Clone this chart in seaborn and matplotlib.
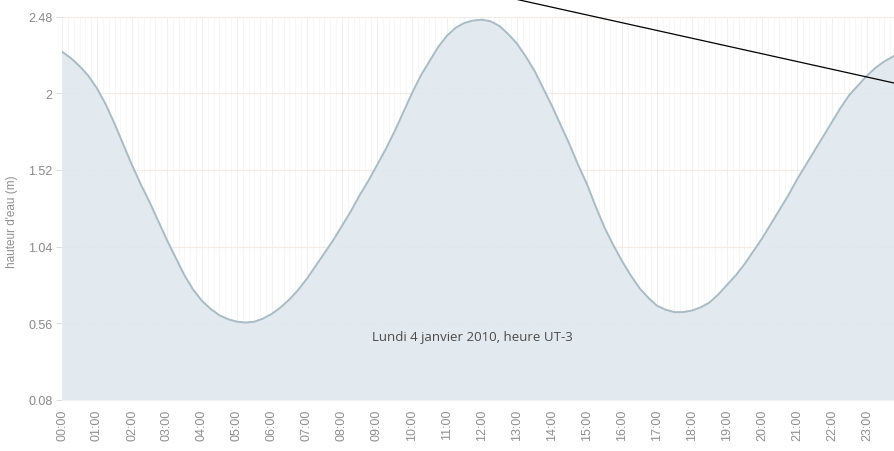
import matplotlib
matplotlib.use("Agg")
import matplotlib.pyplot as plt
import seaborn as sns
import numpy as np
import pandas as pd
from matplotlib.lines import Line2D

# ---- data (quarter-hour readings) ----
hours = [i * 0.25 for i in range(97)]
hauteur = [2.26, 2.22, 2.17, 2.11, 2.03, 1.93, 1.81, 1.68, 1.55, 1.43, 1.32, 1.20,
           1.08, 0.97, 0.86, 0.77, 0.70, 0.65, 0.61, 0.585, 0.57, 0.565, 0.57, 0.59,
           0.62, 0.66, 0.71, 0.77, 0.84, 0.92, 1.00, 1.08, 1.17, 1.26, 1.36, 1.45,
           1.55, 1.65, 1.76, 1.88, 2.00, 2.11, 2.20, 2.29, 2.36, 2.41, 2.44, 2.455,
           2.46, 2.45, 2.42, 2.37, 2.31, 2.23, 2.14, 2.03, 1.92, 1.80, 1.68, 1.55,
           1.43, 1.29, 1.16, 1.05, 0.95, 0.86, 0.78, 0.72, 0.67, 0.645, 0.63, 0.63,
           0.64, 0.66, 0.69, 0.74, 0.80, 0.86, 0.93, 1.01, 1.09, 1.18, 1.27, 1.36,
           1.46, 1.55, 1.64, 1.73, 1.82, 1.91, 1.99, 2.05, 2.11, 2.16, 2.20, 2.23,
           2.26]
y_ticks = [0.08, 0.56, 1.04, 1.52, 2, 2.48]
y_tick_labels = ["0.08", "0.56", "1.04", "1.52", "2", "2.48"]
x_ticks = list(range(0, 25))
x_tick_labels = [f"{h:02d}:00" for h in x_ticks]
y_label = "hauteur d'eau (m)"
caption = "Lundi 4 janvier 2010, heure UT-3"

df = pd.DataFrame({"heure": hours, "hauteur": hauteur})

sns.set_theme(style="white")
plt.rcParams["font.family"] = ["Liberation Sans", "DejaVu Sans"]

W, H = 894, 452
fig = plt.figure(figsize=(W / 100, H / 100), dpi=100)
left, right = 62, 902
bottom_px, top_px = 401, 17.5
ax = fig.add_axes([left / W, (H - bottom_px) / H, (right - left) / W, (bottom_px - top_px) / H])

ax.set_xlim(0, 24)
ax.set_ylim(0.08, 2.48)

# faint grid
ax.set_xticks(np.arange(0, 24.01, 1 / 6), minor=True)
ax.grid(which="minor", axis="x", color="#f6f6f6", linewidth=0.6, zorder=0)
ax.grid(which="major", axis="x", color="#f0f0f0", linewidth=0.7, zorder=0)
ax.grid(which="major", axis="y", color="#f3ece6", linewidth=0.8, zorder=0)

ax.fill_between(df["heure"], 0.08, df["hauteur"], color="#dfe8ee", alpha=0.88,
                linewidth=0, zorder=1)
sns.lineplot(data=df, x="heure", y="hauteur", ax=ax, color="#a9bbc5",
             linewidth=1.4, zorder=2)

ax.set_yticks(y_ticks)
ax.set_yticklabels(y_tick_labels)
ax.set_xticks(x_ticks)
ax.set_xticklabels(x_tick_labels, rotation=90)
ax.tick_params(axis="y", which="major", length=4, width=0.6, color="#d8d8d8",
               labelsize=9, labelcolor="#8a8a8a", pad=3, left=True)
ax.tick_params(axis="x", which="major", length=0, labelsize=9, labelcolor="#8f8f8f",
               pad=6)
ax.tick_params(axis="x", which="minor", length=0)
for s in ax.spines.values():
    s.set_visible(False)

ax.set_xlabel("")
ax.set_ylabel("")
fig.text(12 / W, 1 - 222 / H, y_label, rotation=90, ha="center", va="center",
         fontsize=8.5, color="#8f8f8f")

ax.text((372 - left) / (right - left), 1 - (338 - top_px) / (bottom_px - top_px), caption,
        transform=ax.transAxes, ha="left", va="center", fontsize=9.5, color="#4a4a4a",
        family=["Open Sans", "DejaVu Sans"])

# stray black annotation line present in the reference image
fig.add_artist(Line2D([515 / W, 894 / W], [1, 1 - 84 / H], transform=fig.transFigure,
                      color="black", linewidth=0.9))

fig.savefig("out.png", dpi=100)
